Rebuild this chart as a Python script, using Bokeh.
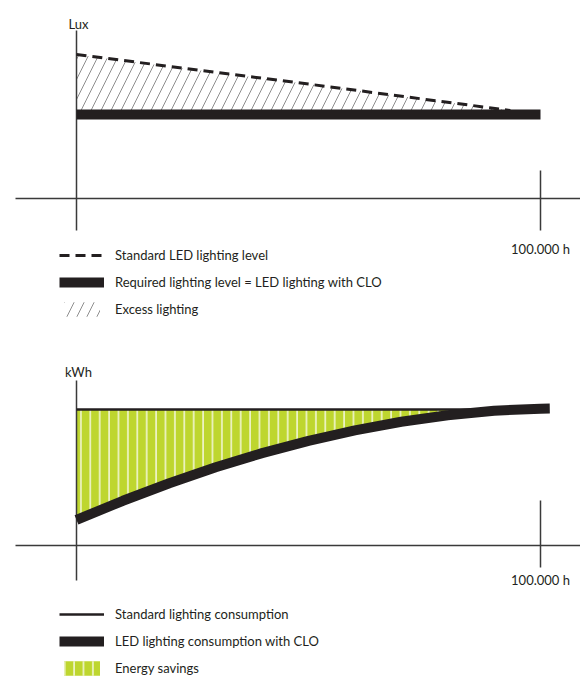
import numpy as np
from bokeh.plotting import figure
from bokeh.models import Legend, LegendItem, Label
from bokeh.layouts import column
from bokeh.embed import file_html
from bokeh.resources import INLINE

# ---------------- data ----------------
hours_std_led = [0, 50000, 93500]          # Standard LED lighting level (dashed)
lux_std_led = [857, 681, 524]
hours_required = [0, 100000]               # Required level = LED with CLO
lux_required = [500, 500]

hours_std_cons = [0, 100000]               # Standard lighting consumption
kwh_std_cons = [100, 100]
hours_led_clo = [0, 10000, 20000, 30000, 40000, 50000, 60000, 70000,
                 80000, 90000, 100000, 102000]
kwh_led_clo = [18.8, 32.9, 45.8, 57.5, 67.9, 76.9, 84.6, 91.0,
               95.8, 99.1, 100.6, 100.7]

x_tick = 100000
x_tick_label = "100.000 h"
top_axis_label = "Lux"
bottom_axis_label = "kWh"
legend_top = ["Standard LED lighting level",
              "Required lighting level = LED lighting with CLO",
              "Excess lighting"]
legend_bottom = ["Standard lighting consumption",
                 "LED lighting consumption with CLO",
                 "Energy savings"]

# ---------------- styling / layout ----------------
BLACK = "#231f20"
AXIS = "#3a3a3a"
GREEN = "#bed62f"
HATCH = "#8e8e8e"
FONT = "Lato"
FS = "13px"

W = 580
H1, H2 = 338, 346
X0_PX, X100_PX = 76, 540


def hx(px):
    return (px - X0_PX) / (X100_PX - X0_PX) * 100000


def ly(py):          # top chart: 0 at y 198, 500 lux at y 114
    return (198 - py) / (84 / 500)


def ky(py):          # bottom chart: 0 at y 545, 100 at y 409
    return (545 - py) / 1.36


def make_fig(h, xr, yr):
    p = figure(width=W, height=h, x_range=xr, y_range=yr,
               x_axis_type=None, y_axis_type=None,
               toolbar_location=None, output_backend="svg",
               min_border=0, outline_line_color=None)
    p.background_fill_color = "white"
    p.border_fill_color = "white"
    return p


xr = (hx(0), hx(W))

# ================= top chart =================
p1 = make_fig(H1, xr, (ly(H1), ly(0)))

r_hatch = p1.varea(x=hours_std_led, y1=[lux_required[0]] * len(hours_std_led), y2=lux_std_led,
                   fill_color=None, fill_alpha=0, hatch_pattern="/", hatch_color=HATCH,
                   hatch_weight=1, hatch_scale=20)
# axes
p1.segment(x0=[hx(15), 0, x_tick], y0=[0, ly(230), ly(230)],
           x1=[xr[1] + 5000, 0, x_tick], y1=[0, ly(30), ly(170)],
           line_color=AXIS, line_width=1.5)
r_dash = p1.line(hours_std_led, lux_std_led, line_color=BLACK, line_width=3, line_dash="10 6")
r_req = p1.line(hours_required, lux_required, line_color=BLACK, line_width=10, line_cap="butt")

p1.add_layout(Label(x=0, y=ly(23), text=top_axis_label, text_align="center",
                    text_baseline="alphabetic", text_font=FONT, text_font_size=FS,
                    text_color=BLACK, x_offset=2))
p1.add_layout(Label(x=x_tick, y=ly(240), text=x_tick_label, text_align="center",
                    text_baseline="top", text_font=FONT, text_font_size=FS, text_color=BLACK))


def make_legend(items, loc):
    return Legend(items=items, location=loc, orientation="vertical",
                  glyph_width=45, glyph_height=18, label_height=18, label_standoff=11,
                  spacing=9, padding=0, margin=0, border_line_color=None,
                  background_fill_alpha=0, label_text_font=FONT,
                  label_text_font_size=FS, label_text_color=BLACK)


leg1 = make_legend([LegendItem(label=legend_top[0], renderers=[r_dash]),
                    LegendItem(label=legend_top[1], renderers=[r_req]),
                    LegendItem(label=legend_top[2], renderers=[r_hatch])],
                   (59, H1 - 246 - 72))
p1.add_layout(leg1)

# ================= bottom chart =================
TOP2 = H1
p2 = make_fig(H2, xr, (ky(TOP2 + H2), ky(TOP2)))

led = np.array(kwh_led_clo, dtype=float)
std_level = kwh_std_cons[0]
r_green = p2.varea(x=hours_led_clo, y1=np.minimum(led, std_level), y2=[std_level] * len(led),
                   fill_color=GREEN, hatch_pattern="|", hatch_color="#f4f7dc",
                   hatch_weight=1.5, hatch_scale=9.4)
p2.segment(x0=[hx(15), 0, x_tick], y0=[0, ky(580), ky(567)],
           x1=[xr[1] + 5000, 0, x_tick], y1=[0, ky(380), ky(500)],
           line_color=AXIS, line_width=1.5)
r_std = p2.line(hours_std_cons, kwh_std_cons, line_color=BLACK, line_width=2.5, line_cap="butt")
r_led = p2.line(hours_led_clo, kwh_led_clo, line_color=BLACK, line_width=10, line_cap="butt",
                line_join="round")

p2.add_layout(Label(x=0, y=ky(371), text=bottom_axis_label, text_align="center",
                    text_baseline="alphabetic", text_font=FONT, text_font_size=FS,
                    text_color=BLACK, x_offset=2))
p2.add_layout(Label(x=x_tick, y=ky(571), text=x_tick_label, text_align="center",
                    text_baseline="top", text_font=FONT, text_font_size=FS, text_color=BLACK))

leg2 = make_legend([LegendItem(label=legend_bottom[0], renderers=[r_std]),
                    LegendItem(label=legend_bottom[1], renderers=[r_led]),
                    LegendItem(label=legend_bottom[2], renderers=[r_green])],
                   (59, H2 - (605 - TOP2) - 72))
p2.add_layout(leg2)

layout = column(p1, p2, spacing=0)
open("out.html", "w").write(file_html(layout, INLINE))
